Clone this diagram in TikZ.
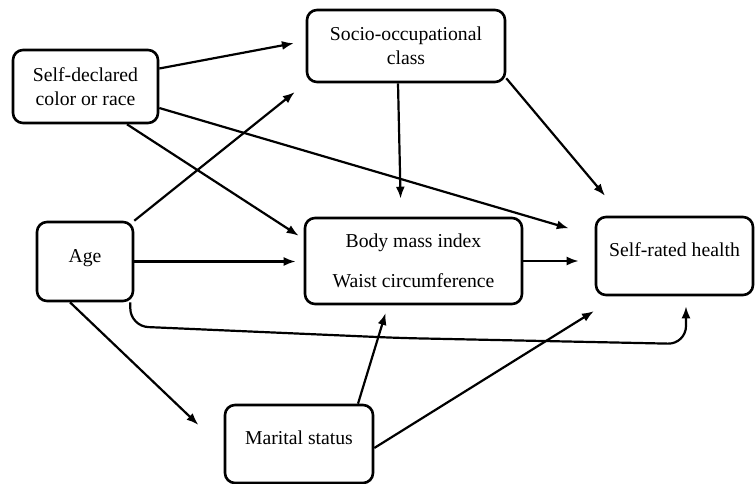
\documentclass[tikz,border=0pt]{standalone}
\usepackage{fontspec}
\setmainfont{Liberation Serif}
\usetikzlibrary{arrows.meta,positioning,calc}

\begin{document}
\begin{tikzpicture}[
    x=1pt, y=-1pt,
    font=\fontsize{19.7}{24}\selectfont,
    box/.style={rectangle, draw, line width=2.6pt, rounded corners=10pt, align=center, inner sep=2pt},
    lifted/.style={text depth=12pt},
    link/.style={-{Latex[length=12pt,width=9pt]}, line width=2.2pt}
]
    \useasboundingbox (0,0) rectangle (755,484);

    % Exposures
    \node[box, minimum width=145pt, minimum height=73pt] (race) at (85.5,86.5) {Self-declared\\color or race};
    \node[box, lifted, minimum width=96pt, minimum height=79pt] (age) at (85,261.5) {Age};

    % Mediators
    \node[box, minimum width=198pt, minimum height=72pt] (socio) at (406,46) {Socio-occupational\\class};
    \node[box, minimum width=217pt, minimum height=86pt] (bmi) at (413.5,261) {Body mass index\\[16pt]Waist circumference};
    \node[box, lifted, minimum width=148pt, minimum height=78pt] (marital) at (299,444) {Marital status};

    % Outcome
    \node[box, lifted, minimum width=157pt, minimum height=78pt] (srh) at (674.5,256) {Self-rated health};

    % Edges
    \draw[link, shorten >=12pt] ([yshift=18pt]race.east) -- ([yshift=5pt]socio.west);
    \draw[link, shorten >=14pt] (age.north east) -- (socio.south west);
    \draw[link, shorten >=6pt] ([xshift=41.5pt]race.south) -- ([yshift=22pt]bmi.west);
    \draw[link, shorten >=27pt] ([yshift=-21.5pt]race.east) -- ([yshift=20pt]srh.west);
    \draw[link, shorten >=18pt] ([xshift=-8pt]socio.south) -- ([xshift=-12.5pt]bmi.north);
    \draw[link, shorten >=26pt] ([yshift=5pt]socio.south east) -- ([xshift=-52.7pt]srh.north);
    \draw[link, shorten >=8pt] (age.east) -- (age.east -| bmi.west);
    \draw[link, shorten >=16pt] (bmi.east) -- (bmi.east -| srh.west);
    \draw[link, shorten >=35pt] ([xshift=-15pt]age.south) -- ([yshift=-5pt]marital.west);
    \draw[link, shorten >=8pt] ([xshift=59pt]marital.north) -- ([xshift=-25.5pt]bmi.south);
    \draw[link, shorten >=28pt] ([yshift=-4pt]marital.east) -- ([xshift=23pt]srh.south west);

    % Age to health, under the mediators
    \coordinate (sag) at (400,338);
    \coordinate (dip) at (686,344);
    \draw[link, rounded corners=18pt, shorten >=10pt] ([xshift=-4pt]age.south east) -- ([xshift=-4pt,yshift=-24pt]age.south east) -- (sag) -- (dip) -- ([xshift=11.5pt]srh.south);
\end{tikzpicture}
\end{document}
